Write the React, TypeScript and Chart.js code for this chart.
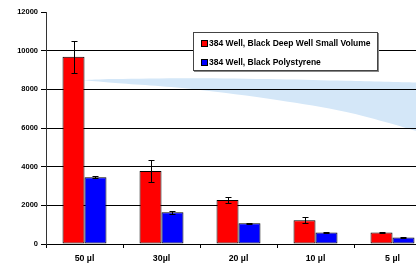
import React, { useEffect, useRef } from "react";
import { Chart, registerables } from "chart.js";

Chart.register(...registerables);

const categories = ["50 µl", "30µl", "20 µl", "10 µl", "5 µl"];
const seriesNames = ["384 Well, Black Deep Well Small Volume", "384 Well, Black Polystyrene"];
const redValues = [9690, 3780, 2270, 1230, 590];
const redErrors = [830, 550, 170, 160, 20];
const blueValues = [3450, 1640, 1070, 590, 340];
const blueErrors = [50, 80, 20, 20, 20];
const yTicks = [0, 2000, 4000, 6000, 8000, 10000, 12000];

// decorative light-blue wedge (category-index position, value)
const bandX = [0, 0.4, 1.4, 2.5, 3.4, 4.3, 4.5];
const bandTop = [8480, 8530, 8570, 8520, 8440, 8350, 8320];
const bandBottom = [8470, 8330, 8020, 7450, 6830, 5860, 5560];

const FONT = 'Arial, "Liberation Sans", sans-serif';

function smoothPath(ctx: CanvasRenderingContext2D, pts: { x: number; y: number }[], moveFirst: boolean) {
  if (moveFirst) ctx.moveTo(pts[0].x, pts[0].y);
  else ctx.lineTo(pts[0].x, pts[0].y);
  for (let i = 0; i < pts.length - 1; i++) {
    const p0 = pts[Math.max(i - 1, 0)];
    const p1 = pts[i];
    const p2 = pts[i + 1];
    const p3 = pts[Math.min(i + 2, pts.length - 1)];
    const c1x = p1.x + (p2.x - p0.x) / 6;
    const c1y = p1.y + (p2.y - p0.y) / 6;
    const c2x = p2.x - (p3.x - p1.x) / 6;
    const c2y = p2.y - (p3.y - p1.y) / 6;
    ctx.bezierCurveTo(c1x, c1y, c2x, c2y, p2.x, p2.y);
  }
}

const bandPlugin = {
  id: "band",
  beforeDraw(chart: any) {
    const ctx = chart.ctx;
    const xs = chart.scales.x2;
    const ys = chart.scales.y;
    const area = chart.chartArea;
    const top = bandX.map((v, i) => ({ x: xs.getPixelForValue(v), y: ys.getPixelForValue(bandTop[i]) }));
    const bot = bandX
      .map((v, i) => ({ x: xs.getPixelForValue(v), y: ys.getPixelForValue(bandBottom[i]) }))
      .reverse();
    ctx.save();
    ctx.beginPath();
    ctx.rect(area.left, area.top, area.right - area.left, area.bottom - area.top);
    ctx.clip();
    ctx.beginPath();
    smoothPath(ctx, top, true);
    smoothPath(ctx, bot, false);
    ctx.closePath();
    ctx.fillStyle = "#d4e7f8";
    ctx.fill();
    ctx.restore();
  },
};

const errorBarPlugin = {
  id: "errorBars",
  afterDatasetsDraw(chart: any) {
    const ctx = chart.ctx;
    const y = chart.scales.y;
    const sets = [
      { idx: 0, vals: redValues, errs: redErrors },
      { idx: 1, vals: blueValues, errs: blueErrors },
    ];
    ctx.save();
    ctx.strokeStyle = "#000";
    ctx.lineWidth = 1;
    sets.forEach((s) => {
      const meta = chart.getDatasetMeta(s.idx);
      meta.data.forEach((bar: any, i: number) => {
        const x = Math.round(bar.x) + 0.5;
        const top = Math.round(y.getPixelForValue(s.vals[i] + s.errs[i])) + 0.5;
        const bot = Math.round(y.getPixelForValue(s.vals[i] - s.errs[i])) + 0.5;
        ctx.beginPath();
        ctx.moveTo(x, top);
        ctx.lineTo(x, bot);
        ctx.moveTo(x - 3, top);
        ctx.lineTo(x + 3, top);
        ctx.moveTo(x - 3, bot);
        ctx.lineTo(x + 3, bot);
        ctx.stroke();
      });
    });
    ctx.restore();
  },
};

export default function App() {
  const ref = useRef<HTMLCanvasElement>(null);
  useEffect(() => {
    document.body.style.overflow = "hidden";
    const chart = new Chart(ref.current as HTMLCanvasElement, {
      type: "bar",
      data: {
        labels: categories,
        datasets: [
          {
            label: seriesNames[0],
            data: redValues,
            backgroundColor: "#ff0000",
            borderColor: "#000",
            borderWidth: 1,
            borderSkipped: false,
            categoryPercentage: 0.571,
            barPercentage: 1,
          } as any,
          {
            label: seriesNames[1],
            data: blueValues,
            backgroundColor: "#0000ff",
            borderColor: "#000",
            borderWidth: 1,
            borderSkipped: false,
            categoryPercentage: 0.571,
            barPercentage: 1,
          } as any,
        ],
      },
      options: {
        animation: false,
        responsive: false,
        layout: { padding: { left: 0, top: 12, right: 9, bottom: 0 } },
        plugins: {
          legend: { display: false },
          tooltip: { enabled: false },
        },
        scales: {
          x: {
            type: "category",
            offset: true,
            grid: { offset: true, drawOnChartArea: false, tickLength: 4, color: "#000" },
            border: { color: "#000" },
            ticks: {
              font: { family: FONT, size: 8.8, weight: "bold" },
              color: "#000",
              padding: 5,
              maxRotation: 0,
              autoSkip: false,
            },
            afterFit: (s: any) => {
              s.height = 21;
            },
          } as any,
          x2: {
            type: "linear",
            display: false,
            offset: false,
            min: -0.5,
            max: 4.5,
            grid: { offset: false },
          } as any,
          y: {
            min: yTicks[0],
            max: yTicks[yTicks.length - 1],
            afterBuildTicks: (s: any) => {
              s.ticks = yTicks.map((v) => ({ value: v }));
            },
            ticks: {
              font: { family: FONT, size: 7.5, weight: "bold" },
              color: "#000",
              padding: 3,
              callback: (v: any) => String(v),
            },
            grid: {
              color: (c: any) => (c.tick && c.tick.value === 12000 ? "rgba(0,0,0,0)" : "#000"),
              tickColor: "#000",
              tickLength: 5,
            },
            border: { color: "#333" },
            afterFit: (s: any) => {
              s.width = 46;
            },
          } as any,
        },
      },
      plugins: [bandPlugin, errorBarPlugin],
    });
    return () => chart.destroy();
  }, []);

  const item = (color: string, text: string, top: number) => (
    <div
      style={{
        position: "absolute",
        left: 7,
        top,
        height: 10,
        display: "flex",
        alignItems: "center",
        whiteSpace: "nowrap",
      }}
    >
      <span
        style={{
          display: "inline-block",
          width: 5,
          height: 5,
          background: color,
          border: "1px solid #000",
          marginRight: 1,
        }}
      />
      <span style={{ fontFamily: FONT, fontSize: 8.5, fontWeight: "bold", color: "#000", lineHeight: "10px" }}>
        {text}
      </span>
    </div>
  );

  return (
    <div style={{ position: "fixed", left: 0, top: 0, width: 440, height: 265, background: "#fff" }}>
      <canvas ref={ref} width={440} height={265} style={{ display: "block" }} />
      <div
        style={{
          position: "absolute",
          left: 193,
          top: 32,
          width: 185,
          height: 39,
          boxSizing: "border-box",
          border: "1px solid #444",
          boxShadow: "1px 1px 0 #888",
          background: "#fff",
        }}
      >
        {item("#ff0000", seriesNames[0], 5)}
        {item("#0000ff", seriesNames[1], 24)}
      </div>
    </div>
  );
}
